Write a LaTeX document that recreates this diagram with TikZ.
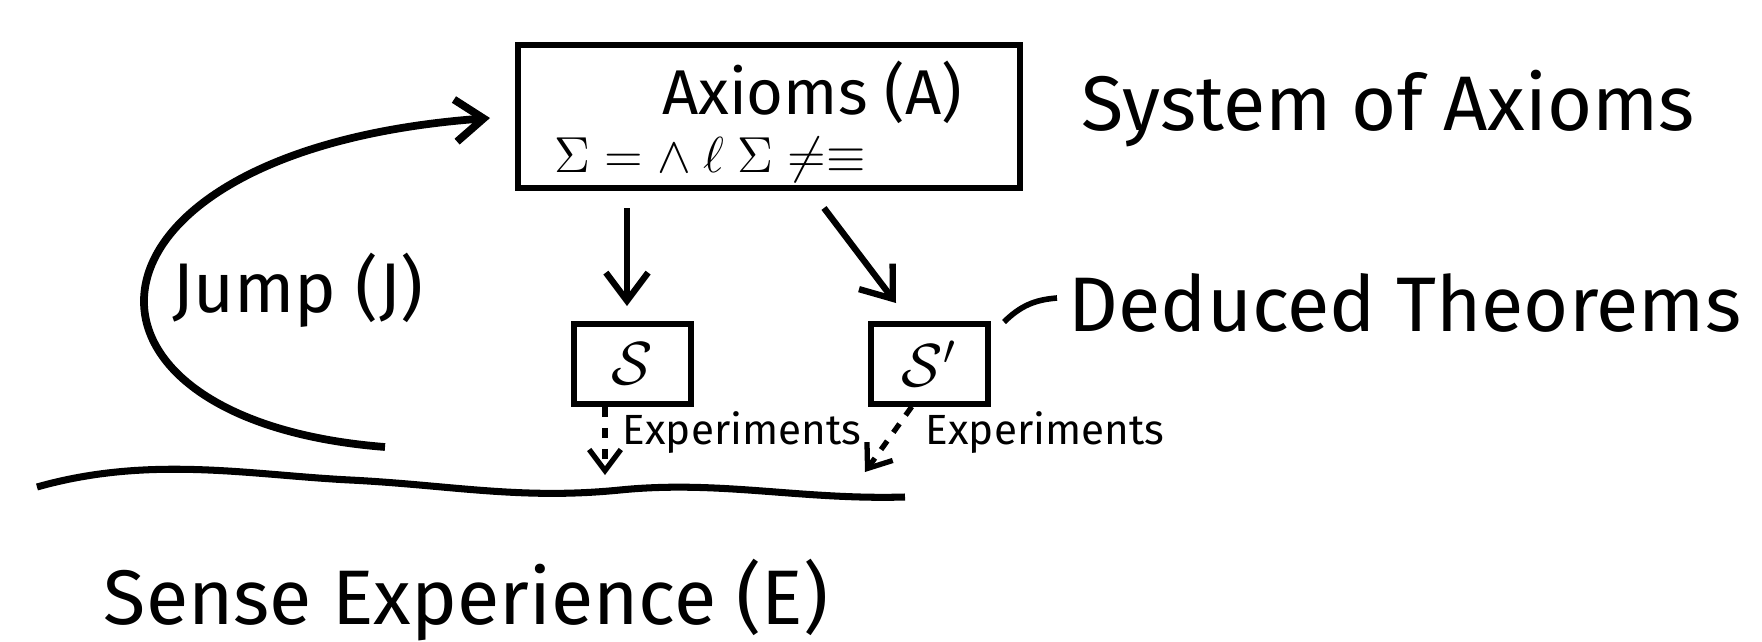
\documentclass[tikz,border=0pt]{standalone}
\usepackage{fontspec}
\setmainfont{Fira Sans}
\usetikzlibrary{arrows.meta,decorations.pathmorphing}
\begin{document}
\begin{tikzpicture}[x=0.01cm,y=-0.01cm,
  box/.style={draw,line width=1.6pt,inner sep=0pt},
  arr/.style={line width=1.8pt,-{Straight Barb[length=8pt,width=12pt]}},
  darr/.style={line width=1.5pt,dashed,-{Straight Barb[length=6pt,width=9pt]}}]
\clip (0,0) rectangle (1762,642);
\useasboundingbox (0,0) rectangle (1762,642);
\fill[white] (0,0) rectangle (1762,642);
\node[box,minimum width=5.02cm,minimum height=1.43cm,anchor=north west] (ax) at (515,42) {};
\node[font=\fontsize{18}{20}\selectfont] (axt) at (812,92) {Axioms (A)};
\node[font=\fontsize{14}{16}\selectfont] (form) at (710,160) {$\Sigma = \wedge\ \ell\ \Sigma \neq \equiv$};
\node[font=\fontsize{22}{26}\selectfont] (sys) at (1388,109) {System of Axioms};
\node[box,minimum width=1.17cm,minimum height=0.8cm,anchor=north west,font=\fontsize{18}{20}\selectfont] (s) at (571,321) {$\mathcal{S}$};
\node[box,minimum width=1.17cm,minimum height=0.8cm,anchor=north west,font=\fontsize{18}{20}\selectfont] (s2) at (868,321) {$\mathcal{S}'$};
\node[font=\fontsize{22}{26}\selectfont] (ded) at (1405,303) {Deduced Theorems};
\coordinate (a1) at (627,208); \coordinate (a1e) at (627,306);
\coordinate (a2) at (824,208); \coordinate (a2e) at (896,303);
\draw[arr] (a1) -- (a1e);
\draw[arr] (a2) -- (a2e);
\coordinate (dl1) at (1004,322); \coordinate (dl2) at (1057,298);
\draw[line width=1.6pt] (dl1) to[bend left=20] (dl2);
\coordinate (e1) at (605,475); \coordinate (e2) at (865,472);
\draw[darr] (s.south -| e1) -- (e1);
\draw[darr] ([xshift=-5pt]s2.south) -- (e2);
\node[font=\fontsize{12}{14}\selectfont] (x1) at (742,433) {Experiments};
\node[font=\fontsize{12}{14}\selectfont] (x2) at (1045,433) {Experiments};
\coordinate (w0) at (37,487); \coordinate (w1) at (905,497);
\draw[line width=2pt] (w0) .. controls (150,455) and (250,475) .. (350,480)
  .. controls (450,485) and (520,500) .. (620,490)
  .. controls (720,480) and (800,500) .. (w1);
\node[font=\fontsize{22}{26}\selectfont] (se) at (466,600) {Sense Experience (E)};
\coordinate (j0) at (385,447); \coordinate (j1) at (490,118);
\draw[arr,line width=2.2pt] (j0) .. controls (40,420) and (60,150) .. (j1);
\node[font=\fontsize{20}{24}\selectfont] (jt) at (298,290) {Jump (J)};
\end{tikzpicture}
\end{document}
